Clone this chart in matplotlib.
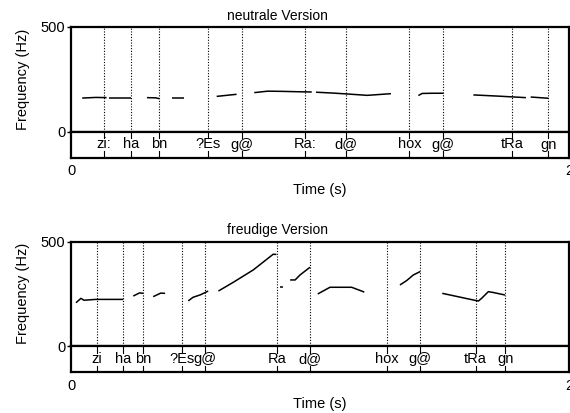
import matplotlib
matplotlib.use('Agg')
import matplotlib.pyplot as plt
import numpy as np

plt.rcParams['font.family'] = ['Liberation Sans', 'DejaVu Sans']

# Pitch contours (time in s, F0 in Hz), one list entry per voiced stretch
neutral_t = [
    [0.045, 0.10, 0.143],
    [0.154, 0.20, 0.240],
    [0.305, 0.34, 0.355],
    [0.406, 0.43, 0.455],
    [0.585, 0.625, 0.665],
    [0.736, 0.79, 0.85, 0.92, 0.967],
    [0.984, 1.05, 1.103, 1.19, 1.285],
    [1.395, 1.41, 1.45, 1.496],
    [1.616, 1.72, 1.827],
    [1.846, 1.917],
]
neutral_f = [
    [160, 163, 162],
    [160, 160, 160],
    [162, 161, 157],
    [162, 162, 162],
    [168, 173, 178],
    [186, 193, 192, 190, 189],
    [188, 184, 180, 173, 181],
    [172, 182, 183, 183],
    [175, 169, 162],
    [165, 159],
]
happy_t = [
    [0.02, 0.04, 0.052, 0.10, 0.21],
    [0.25, 0.275, 0.29],
    [0.33, 0.36, 0.378],
    [0.471, 0.49, 0.52, 0.551],
    [0.592, 0.652, 0.732, 0.812, 0.825],
    [0.84, 0.85],
    [0.88, 0.90, 0.92, 0.96],
    [0.991, 1.04, 1.127, 1.178],
    [1.321, 1.348, 1.375, 1.402],
    [1.491, 1.636, 1.649, 1.676, 1.696, 1.743],
]
happy_f = [
    [207, 228, 219, 223, 223],
    [239, 254, 252],
    [236, 253, 252],
    [216, 233, 245, 263],
    [263, 305, 364, 439, 438],
    [284, 284],
    [316, 316, 340, 377],
    [249, 281, 281, 258],
    [292, 313, 340, 356],
    [252, 215, 228, 260, 256, 244],
]

# Point tiers
neutral_pts = [0.1325, 0.240, 0.355, 0.549, 0.688, 0.940, 1.103, 1.359, 1.493, 1.772, 1.917]
neutral_lab = ['zi:', 'ha', 'bn', '?Es', 'g@', 'Ra:', 'd@', 'hox', 'g@', 'tRa', 'gn']
happy_pts = [0.103, 0.208, 0.290, 0.447, 0.538, 0.827, 0.960, 1.270, 1.402, 1.625, 1.744]
happy_lab = ['zi', 'ha', 'bn', '?Es', 'g@', 'Ra', 'd@', 'hox', 'g@', 'tRa', 'gn']

W, H = 570, 413
fig = plt.figure(figsize=(W / 100, H / 100), dpi=100)


def px_axes(x0, y0, x1, y1):
    return fig.add_axes([x0 / W, 1 - y1 / H, (x1 - x0) / W, (y1 - y0) / H])


def panel(top, title, ts, fs, pts, labs):
    x0, x1 = 71, 569
    y500, y0, ybot = top, top + 104.5, top + 130.5
    ax = px_axes(x0, y500, x1, y0)
    tier = px_axes(x0, y0, x1, ybot)

    for t, f in zip(ts, fs):
        ax.plot(t, f, color='black', lw=1.1, solid_capstyle='butt')
    for p in pts:
        ax.axvline(p, color='black', lw=0.8, ls=(0, (1, 1.5)))
    ax.set_xlim(0, 2)
    ax.set_ylim(0, 500)
    ax.set_xticks([])
    ax.set_yticks([0, 500])
    ax.set_yticklabels(['0', '500'])
    ax.tick_params(axis='y', length=3, width=1, pad=1, labelsize=10.5)
    ax.set_ylabel('Frequency (Hz)', fontsize=10.5, labelpad=8)
    ax.text(0.415, 1.04, title, transform=ax.transAxes, ha='center',
            va='bottom', fontsize=10)

    tier.set_xlim(0, 2)
    tier.set_ylim(0, 1)
    for p, lab in zip(pts, labs):
        tier.plot([p, p], [1, 0.74], color='black', lw=0.8)
        tier.plot([p, p], [0, 0.24], color='black', lw=0.8)
        tier.text(p, 0.5, lab, ha='center', va='center', fontsize=10.5)
    tier.set_yticks([])
    tier.set_xticks([0, 2])
    tier.set_xticklabels(['0', '2'])
    tier.tick_params(axis='x', length=0, pad=5, labelsize=10.5)
    tier.set_xlabel('Time (s)', fontsize=10.5, labelpad=3)

    for a in (ax, tier):
        for s in a.spines.values():
            s.set_linewidth(1.6)


panel(27, 'neutrale Version', neutral_t, neutral_f, neutral_pts, neutral_lab)
panel(241.5, 'freudige Version', happy_t, happy_f, happy_pts, happy_lab)

fig.savefig('out.png', dpi=100)
